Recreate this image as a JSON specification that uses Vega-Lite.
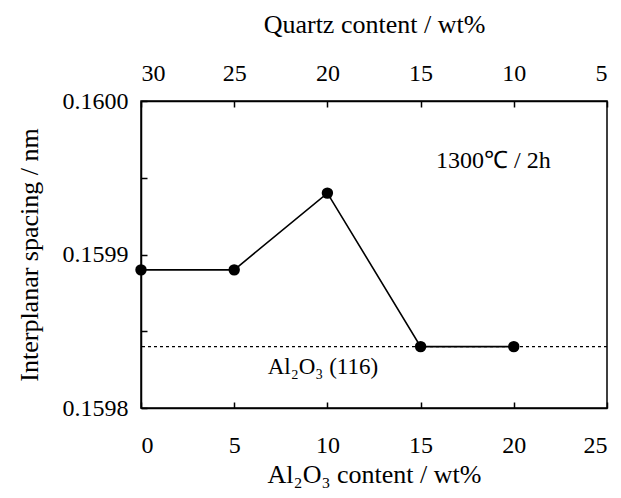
{
  "$schema": "https://vega.github.io/schema/vega-lite/v6.json",
  "width": 466,
  "height": 307,
  "autosize": "none",
  "padding": {"left": 141, "top": 101, "right": 14, "bottom": 90},
  "background": "white",
  "config": {
    "font": "Liberation Serif",
    "view": {"stroke": "black", "strokeWidth": 1.5},
    "text": {"font": "Liberation Serif"},
    "axis": {
      "grid": false,
      "domainColor": "black",
      "domainWidth": 1.5,
      "tickColor": "black",
      "tickWidth": 1.5,
      "tickSize": -6,
      "labelColor": "black",
      "titleColor": "black",
      "labelFont": "Liberation Serif",
      "titleFont": "Liberation Serif",
      "labelFontSize": 24,
      "titleFontSize": 26,
      "titleFontWeight": "normal"
    }
  },
  "data": {
    "values": [
      {"al2o3": 0, "quartz": 30, "spacing": 0.15989},
      {"al2o3": 5, "quartz": 25, "spacing": 0.15989},
      {"al2o3": 10, "quartz": 20, "spacing": 0.15994},
      {"al2o3": 15, "quartz": 15, "spacing": 0.15984},
      {"al2o3": 20, "quartz": 10, "spacing": 0.15984}
    ]
  },
  "layer": [
    {
      "encoding": {
        "x": {
          "field": "al2o3",
          "type": "quantitative",
          "scale": {"domain": [0, 25], "nice": false},
          "axis": {
            "orient": "bottom",
            "values": [0, 5, 10, 15, 20, 25],
            "labelPadding": 31,
            "titlePadding": 4,
            "title": "Al₂O₃ content / wt%"
          }
        },
        "y": {
          "field": "spacing",
          "type": "quantitative",
          "scale": {"domain": [0.1598, 0.16], "zero": false, "nice": false},
          "axis": {
            "values": [0.1598, 0.15985, 0.1599, 0.15995, 0.16],
            "labelExpr": "(round(datum.value*1e5) % 10 == 0) ? format(datum.value, '.4f') : ''",
            "labelPadding": 19,
            "titlePadding": 20,
            "title": "Interplanar spacing / nm"
          }
        }
      },
      "layer": [
        {
          "data": {"values": [{"ref": 0.15984}]},
          "mark": {"type": "rule", "color": "black", "strokeWidth": 1.2, "strokeDash": [3, 3]},
          "encoding": {"y": {"field": "ref", "type": "quantitative"}, "x": null}
        },
        {
          "mark": {"type": "line", "color": "black", "strokeWidth": 1.6}
        },
        {
          "mark": {"type": "point", "filled": true, "color": "black", "size": 130, "opacity": 1}
        },
        {
          "data": {"values": [{"label": "1300℃ / 2h", "lx": 18.9, "ly": 0.159961}]},
          "mark": {"type": "text", "fontSize": 24, "color": "black"},
          "encoding": {
            "x": {"field": "lx", "type": "quantitative"},
            "y": {"field": "ly", "type": "quantitative"},
            "text": {"field": "label"}
          }
        },
        {
          "data": {"values": [{"label": "Al₂O₃ (116)", "lx": 9.76, "ly": 0.159827}]},
          "mark": {"type": "text", "fontSize": 23, "color": "black"},
          "encoding": {
            "x": {"field": "lx", "type": "quantitative"},
            "y": {"field": "ly", "type": "quantitative"},
            "text": {"field": "label"}
          }
        }
      ]
    },
    {
      "mark": {"type": "point", "opacity": 0},
      "encoding": {
        "x": {
          "field": "quartz",
          "type": "quantitative",
          "scale": {"domain": [30, 5], "nice": false},
          "axis": {
            "orient": "top",
            "values": [30, 25, 20, 15, 10, 5],
            "labelPadding": 22,
            "titlePadding": 24,
            "title": "Quartz content / wt%"
          }
        },
        "y": {"field": "spacing", "type": "quantitative"}
      }
    }
  ],
  "resolve": {"scale": {"x": "independent"}, "axis": {"x": "independent"}}
}
